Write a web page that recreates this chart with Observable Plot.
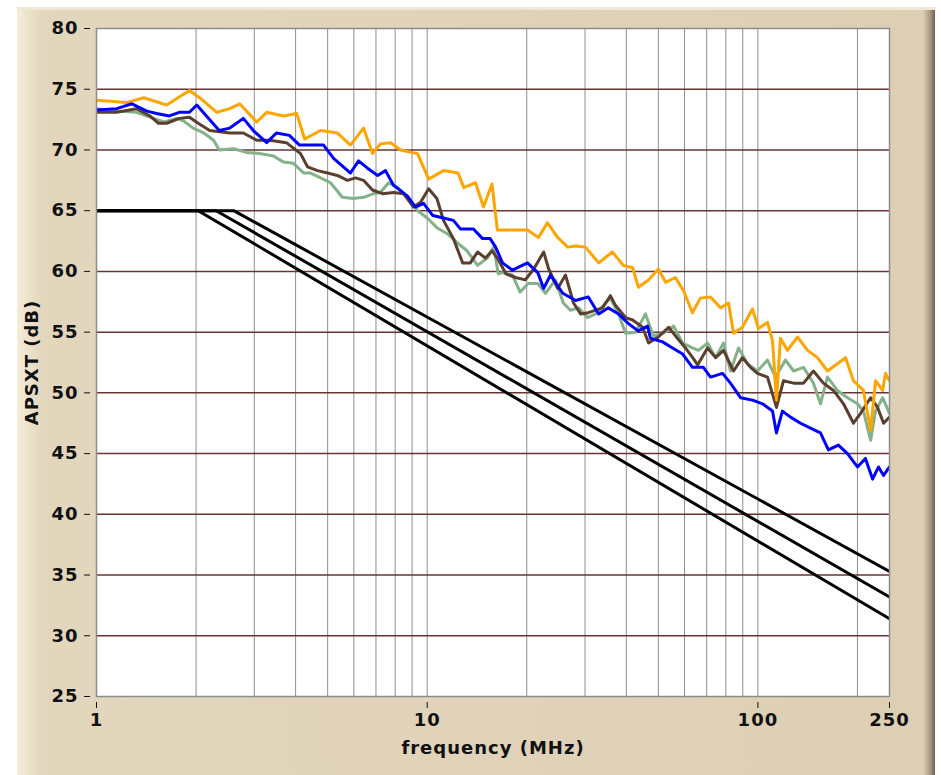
<!DOCTYPE html>
<html><head><meta charset="utf-8">
<script src="https://cdn.jsdelivr.net/npm/d3@7"></script>
<script src="https://cdn.jsdelivr.net/npm/@observablehq/plot@0.6"></script>
<style>
html,body{margin:0;padding:0;background:#fff;}
#wrap{position:relative;width:941px;height:775px;overflow:hidden;}
#frame{position:absolute;left:17px;top:7px;width:918px;height:768px;
 background: linear-gradient(to right, #f6ecd9 0px, #ece1cb 12px, #e2d6bd 26px, #e0d3b9 50%, #dccfb4 calc(100% - 12px), #a99b85 calc(100% - 5px), #6e6252 100%);
 box-shadow: inset 0 3px 0 #efe6d4;}
#chart{position:absolute;left:0;top:0;}
#chart svg text{letter-spacing:1px;}
</style></head>
<body><div id="wrap"><div id="frame"></div><div id="chart"></div></div>
<script>
// ---- axis ticks / labels ----
const xTicks = [1, 10, 100, 250];
const yTicks = [25, 30, 35, 40, 45, 50, 55, 60, 65, 70, 75, 80];
const xGrid = [2, 3, 4, 5, 6, 7, 8, 9, 10, 20, 30, 40, 50, 60, 70, 80, 90, 100, 200];
const yGrid = [30, 35, 40, 45, 50, 55, 60, 65, 70, 75];
const xLabel = "frequency (MHz)";
const yLabel = "APSXT (dB)";

// ---- orange trace ----
const orangeF = [1.00,1.23,1.39,1.63,1.91,2.05,2.31,2.53,2.71,3.05,3.27,3.68,4.03,4.26,4.76,5.35,5.86,6.42,6.83,7.22,7.75,8.30,9.35,10.1,11.2,12.4,12.9,14.0,14.8,15.7,16.3,17.6,20.1,21.7,23.1,24.8,26.6,28.1,30.1,33.0,36.3,39.2,41.8,43.5,46.7,50.0,52.6,56.3,59.6,63.4,67.0,71.9,77.1,81.5,84.4,89.8,96.3,100.4,106.9,110.7,113.8,117.0,122.8,131.8,141.3,151.4,162.3,174.0,184.1,194.5,208.5,219.2,226.9,238.3,243.2,250];
const orangeDb = [74.1,73.9,74.3,73.7,74.9,74.3,73.1,73.4,73.8,72.3,73.1,72.8,73.0,70.9,71.6,71.4,70.4,71.8,69.7,70.5,70.6,70.0,69.7,67.6,68.3,68.1,66.9,67.3,65.3,67.2,63.4,63.4,63.4,62.8,64.0,62.8,62.0,62.1,62.0,60.7,61.6,60.5,60.3,58.7,59.3,60.2,59.1,59.5,58.4,56.6,57.8,57.9,57.0,57.4,54.9,55.4,56.9,55.3,55.8,54.3,49.4,54.5,53.5,54.6,53.5,52.9,51.8,52.4,52.9,51.0,50.2,46.9,51.0,50.2,51.6,51.0];

// ---- blue trace ----
const blueF = [1.00,1.15,1.28,1.42,1.52,1.66,1.78,1.91,2.01,2.15,2.35,2.53,2.78,2.98,3.27,3.50,3.83,4.11,4.53,4.86,5.21,5.58,5.86,6.20,6.60,7.08,7.48,7.91,8.72,9.22,9.75,10.4,11.2,12.0,12.6,13.8,14.7,15.5,16.1,16.9,18.1,20.1,21.6,22.5,23.6,25.7,28.1,30.7,33.0,35.3,37.9,40.6,43.5,46.4,47.3,51.5,55.2,59.2,63.4,68.4,71.9,78.2,82.6,88.6,96.3,103.3,110.7,113.8,118.6,125.5,134.6,144.2,154.6,163.4,175.2,186.6,200.0,211.4,222.2,231.6,239.9,250];
const blueDb = [73.3,73.4,73.8,73.2,73.0,72.8,73.1,73.1,73.7,72.8,71.6,71.8,72.6,71.6,70.6,71.4,71.2,70.4,70.4,70.4,69.3,68.6,68.1,69.1,68.5,67.9,68.3,67.1,66.2,65.3,65.6,64.6,64.4,64.2,63.5,63.5,62.7,62.7,62.0,60.7,60.1,60.7,59.9,58.6,59.7,58.2,57.6,57.9,56.5,57.0,56.5,55.7,55.1,55.5,54.5,54.2,53.7,53.2,52.1,52.1,51.3,51.6,50.8,49.6,49.4,49.1,48.5,46.7,48.5,48.0,47.5,47.1,46.7,45.3,45.7,45.0,43.9,44.6,42.9,43.9,43.2,43.9];

// ---- brown trace ----
const brownF = [1.00,1.15,1.32,1.45,1.54,1.63,1.78,1.91,2.03,2.20,2.53,2.78,3.05,3.34,3.75,4.14,4.35,4.66,5.00,5.35,5.74,6.07,6.42,6.83,7.33,7.91,8.48,9.09,9.55,10.1,10.7,11.2,12.0,12.8,13.5,14.2,15.0,15.7,16.3,17.3,18.5,19.8,21.0,22.5,23.3,24.8,26.2,27.7,29.1,30.7,33.9,35.8,37.1,39.8,41.8,44.8,46.7,50.0,53.7,57.1,60.4,63.9,65.7,70.4,74.5,78.7,84.4,89.8,95.0,99.7,106.9,113.8,119.5,128.2,137.4,147.2,157.8,169.2,181.5,194.5,204.2,219.2,230.1,239.9,250];
const brownDb = [73.1,73.1,73.4,72.8,72.2,72.2,72.6,72.7,72.2,71.6,71.4,71.4,70.8,70.8,70.6,69.7,68.6,68.3,68.1,67.9,67.5,67.7,67.5,66.7,66.4,66.5,66.4,65.3,65.7,66.8,66.0,64.2,62.7,60.7,60.7,61.6,61.1,61.7,61.1,59.8,59.5,59.3,60.2,61.6,60.2,58.6,59.7,57.4,56.5,56.6,57.0,58.0,57.2,56.2,56.0,55.4,54.1,54.6,55.4,54.5,53.7,52.8,52.3,53.7,52.9,53.5,51.8,52.9,52.1,51.6,51.3,48.8,51.0,50.8,50.8,51.8,50.8,50.2,49.1,47.5,48.3,49.6,48.8,47.5,48.0];

// ---- green trace ----
const greenF = [1.00,1.15,1.32,1.45,1.60,1.75,1.83,1.96,2.11,2.26,2.35,2.60,2.84,3.11,3.43,3.68,3.94,4.23,4.44,4.76,5.10,5.54,5.98,6.42,6.88,7.22,7.64,8.13,8.72,9.35,10.0,10.7,11.5,12.4,13.2,14.2,15.2,15.9,16.4,16.9,18.1,19.1,20.2,21.6,22.8,24.4,25.8,27.1,28.7,30.5,32.3,34.6,35.8,37.9,39.8,42.7,45.7,48.3,51.8,55.6,59.2,63.4,66.1,70.4,74.5,78.7,82.6,87.4,93.0,99.7,106.9,113.0,121.2,128.2,137.4,147.2,154.6,162.3,174.0,186.6,200.0,208.5,219.2,226.9,238.3,250];
const greenDb = [73.4,73.2,73.1,72.7,72.3,72.6,72.4,71.8,71.4,70.8,70.0,70.1,69.8,69.7,69.5,69.0,68.9,68.1,68.1,67.7,67.3,66.1,66.0,66.1,66.4,66.5,67.3,66.9,66.1,65.0,64.4,63.6,63.1,62.3,61.7,60.5,61.1,62.0,59.8,59.9,59.7,58.3,59.0,59.0,58.2,59.3,57.4,56.8,57.0,56.2,56.5,57.4,57.8,56.5,54.9,55.0,56.5,54.7,54.9,55.5,54.1,53.7,53.5,54.1,52.9,54.1,51.8,53.7,52.4,51.8,52.7,51.3,52.7,51.8,52.1,50.8,49.1,51.3,50.2,49.6,49.1,48.5,46.1,48.5,49.6,48.3];

// ---- black limit lines (flat level, corner frequency, value at 250 MHz) ----
const limitLevel = 65;
const limitCornerF = [2.6, 2.3, 2.03];
const limitEndDb = [35.3, 33.2, 31.4];

const toRows = (fs, ds) => fs.map((f, i) => ({f, db: ds[i]}));
const series = [
  {rows: toRows(greenF, greenDb), color: "#84b08a"},
  {rows: toRows(brownF, brownDb), color: "#5a3f2f"},
  {rows: toRows(orangeF, orangeDb), color: "#ffa500"},
  {rows: toRows(blueF, blueDb), color: "#0000ff"}
];
const limits = limitCornerF.map((c, i) => [
  {f: xTicks[0], db: limitLevel}, {f: c, db: limitLevel}, {f: xTicks[xTicks.length - 1], db: limitEndDb[i]}
]);

const font = "'DejaVu Sans', Verdana, sans-serif";
const chart = Plot.plot({
  width: 941, height: 775,
  marginLeft: 96, marginRight: 52, marginTop: 28, marginBottom: 79,
  style: {background: "transparent", fontFamily: font, fontWeight: "bold", fontSize: "18px", color: "#111"},
  x: {type: "log", domain: [1, 250]},
  y: {domain: [25, 80]},
  marks: [
    Plot.frame({fill: "white", stroke: null}),
    Plot.ruleX(xGrid, {stroke: "#8e8e8e", strokeWidth: 1}),
    Plot.ruleY(yGrid, {stroke: "#663434", strokeWidth: 1.5}),
    Plot.axisY({ticks: yTicks, tickSize: 6, dx: -6, tickPadding: 6, label: null, tickFormat: d => String(d), stroke: "#111", fontSize: 18}),
    Plot.axisX({ticks: xTicks, tickSize: 6, dy: 6, tickPadding: 5, label: null, tickFormat: d => String(d), stroke: "#111", fontSize: 18}),
    ...limits.map(rows => Plot.line(rows, {x: "f", y: "db", stroke: "#000", strokeWidth: 3, clip: true})),
    ...series.map(s => Plot.line(s.rows, {x: "f", y: "db", stroke: s.color, strokeWidth: 3, clip: true})),
    Plot.frame({stroke: "#8c8c8c", strokeWidth: 1.5}),
    Plot.text([yLabel], {frameAnchor: "left", dx: -64, rotate: -90, text: d => d, textAnchor: "middle", lineAnchor: "middle", fontSize: 18, fontWeight: "bold", fill: "#111"}),
    Plot.text([xLabel], {frameAnchor: "bottom", dy: 52, text: d => d, textAnchor: "middle", lineAnchor: "middle", fontSize: 18, fontWeight: "bold", fill: "#111"})
  ]
});
document.getElementById("chart").appendChild(chart);
</script>
</body></html>
